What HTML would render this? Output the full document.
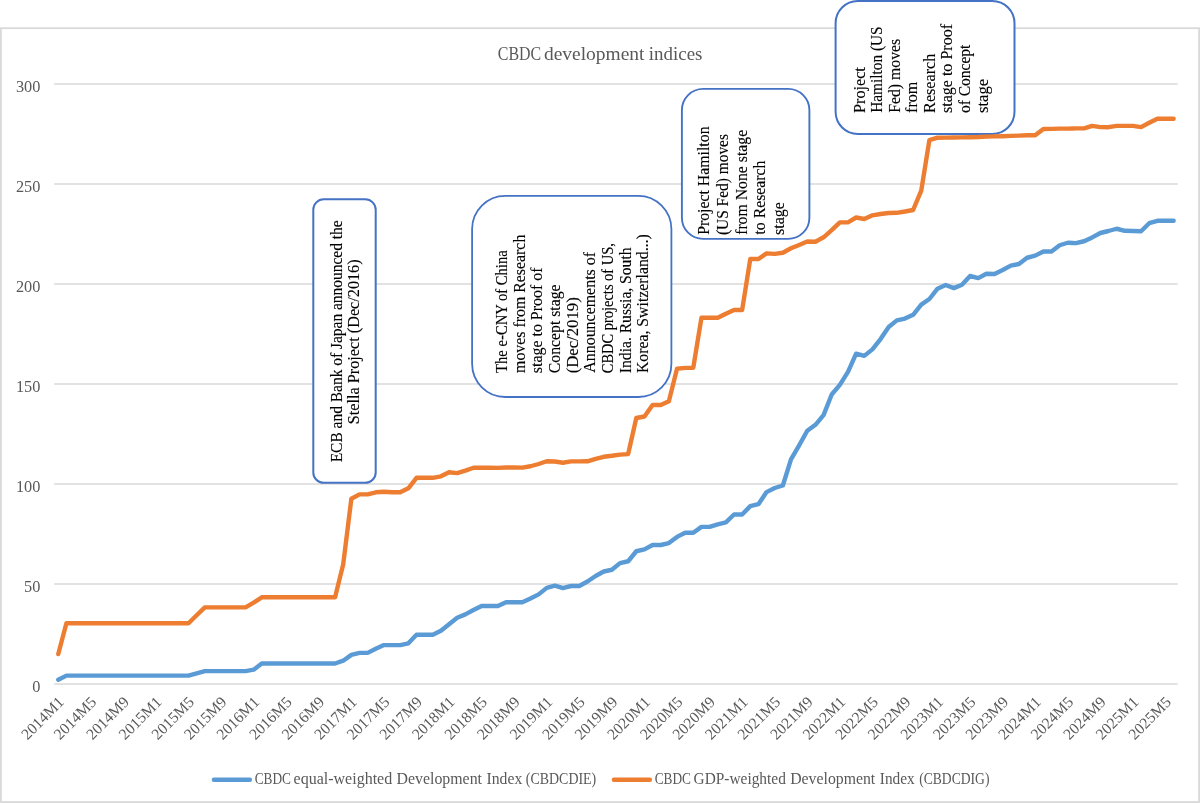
<!DOCTYPE html>
<html><head><meta charset="utf-8"><title>CBDC development indices</title>
<style>
html,body{margin:0;padding:0;background:#fff;}
body{width:1200px;height:803px;overflow:hidden;}
svg{display:block;font-family:"Liberation Serif", serif;will-change:transform;}
</style></head>
<body>
<svg width="1200" height="803" viewBox="0 0 1200 803">
<rect x="0.9" y="28.2" width="1198.2" height="773.9" fill="#fff" stroke="#d9d9d9" stroke-width="1.8"/>
<line x1="54.2" y1="684.0" x2="1177.7" y2="684.0" stroke="#d9d9d9" stroke-width="1.6"/>
<line x1="54.2" y1="584.0" x2="1177.7" y2="584.0" stroke="#d9d9d9" stroke-width="1.6"/>
<line x1="54.2" y1="484.0" x2="1177.7" y2="484.0" stroke="#d9d9d9" stroke-width="1.6"/>
<line x1="54.2" y1="384.0" x2="1177.7" y2="384.0" stroke="#d9d9d9" stroke-width="1.6"/>
<line x1="54.2" y1="284.0" x2="1177.7" y2="284.0" stroke="#d9d9d9" stroke-width="1.6"/>
<line x1="54.2" y1="184.0" x2="1177.7" y2="184.0" stroke="#d9d9d9" stroke-width="1.6"/>
<line x1="54.2" y1="84.0" x2="1177.7" y2="84.0" stroke="#d9d9d9" stroke-width="1.6"/>
<text x="40.4" y="691.6" text-anchor="end" font-size="16.3" fill="#595959">0</text>
<text x="40.4" y="591.6" text-anchor="end" font-size="16.3" fill="#595959">50</text>
<text x="40.4" y="491.6" text-anchor="end" font-size="16.3" fill="#595959">100</text>
<text x="40.4" y="391.6" text-anchor="end" font-size="16.3" fill="#595959">150</text>
<text x="40.4" y="291.6" text-anchor="end" font-size="16.3" fill="#595959">200</text>
<text x="40.4" y="191.6" text-anchor="end" font-size="16.3" fill="#595959">250</text>
<text x="40.4" y="91.6" text-anchor="end" font-size="16.3" fill="#595959">300</text>
<text transform="translate(59.27,697.5) rotate(-45)" text-anchor="end" font-size="15.6" fill="#595959" dy="0.5em">2014M1</text>
<text transform="translate(91.84,697.5) rotate(-45)" text-anchor="end" font-size="15.6" fill="#595959" dy="0.5em">2014M5</text>
<text transform="translate(124.40,697.5) rotate(-45)" text-anchor="end" font-size="15.6" fill="#595959" dy="0.5em">2014M9</text>
<text transform="translate(156.97,697.5) rotate(-45)" text-anchor="end" font-size="15.6" fill="#595959" dy="0.5em">2015M1</text>
<text transform="translate(189.53,697.5) rotate(-45)" text-anchor="end" font-size="15.6" fill="#595959" dy="0.5em">2015M5</text>
<text transform="translate(222.10,697.5) rotate(-45)" text-anchor="end" font-size="15.6" fill="#595959" dy="0.5em">2015M9</text>
<text transform="translate(254.66,697.5) rotate(-45)" text-anchor="end" font-size="15.6" fill="#595959" dy="0.5em">2016M1</text>
<text transform="translate(287.23,697.5) rotate(-45)" text-anchor="end" font-size="15.6" fill="#595959" dy="0.5em">2016M5</text>
<text transform="translate(319.79,697.5) rotate(-45)" text-anchor="end" font-size="15.6" fill="#595959" dy="0.5em">2016M9</text>
<text transform="translate(352.36,697.5) rotate(-45)" text-anchor="end" font-size="15.6" fill="#595959" dy="0.5em">2017M1</text>
<text transform="translate(384.92,697.5) rotate(-45)" text-anchor="end" font-size="15.6" fill="#595959" dy="0.5em">2017M5</text>
<text transform="translate(417.49,697.5) rotate(-45)" text-anchor="end" font-size="15.6" fill="#595959" dy="0.5em">2017M9</text>
<text transform="translate(450.05,697.5) rotate(-45)" text-anchor="end" font-size="15.6" fill="#595959" dy="0.5em">2018M1</text>
<text transform="translate(482.62,697.5) rotate(-45)" text-anchor="end" font-size="15.6" fill="#595959" dy="0.5em">2018M5</text>
<text transform="translate(515.18,697.5) rotate(-45)" text-anchor="end" font-size="15.6" fill="#595959" dy="0.5em">2018M9</text>
<text transform="translate(547.75,697.5) rotate(-45)" text-anchor="end" font-size="15.6" fill="#595959" dy="0.5em">2019M1</text>
<text transform="translate(580.31,697.5) rotate(-45)" text-anchor="end" font-size="15.6" fill="#595959" dy="0.5em">2019M5</text>
<text transform="translate(612.88,697.5) rotate(-45)" text-anchor="end" font-size="15.6" fill="#595959" dy="0.5em">2019M9</text>
<text transform="translate(645.44,697.5) rotate(-45)" text-anchor="end" font-size="15.6" fill="#595959" dy="0.5em">2020M1</text>
<text transform="translate(678.01,697.5) rotate(-45)" text-anchor="end" font-size="15.6" fill="#595959" dy="0.5em">2020M5</text>
<text transform="translate(710.58,697.5) rotate(-45)" text-anchor="end" font-size="15.6" fill="#595959" dy="0.5em">2020M9</text>
<text transform="translate(743.14,697.5) rotate(-45)" text-anchor="end" font-size="15.6" fill="#595959" dy="0.5em">2021M1</text>
<text transform="translate(775.71,697.5) rotate(-45)" text-anchor="end" font-size="15.6" fill="#595959" dy="0.5em">2021M5</text>
<text transform="translate(808.27,697.5) rotate(-45)" text-anchor="end" font-size="15.6" fill="#595959" dy="0.5em">2021M9</text>
<text transform="translate(840.84,697.5) rotate(-45)" text-anchor="end" font-size="15.6" fill="#595959" dy="0.5em">2022M1</text>
<text transform="translate(873.40,697.5) rotate(-45)" text-anchor="end" font-size="15.6" fill="#595959" dy="0.5em">2022M5</text>
<text transform="translate(905.97,697.5) rotate(-45)" text-anchor="end" font-size="15.6" fill="#595959" dy="0.5em">2022M9</text>
<text transform="translate(938.53,697.5) rotate(-45)" text-anchor="end" font-size="15.6" fill="#595959" dy="0.5em">2023M1</text>
<text transform="translate(971.10,697.5) rotate(-45)" text-anchor="end" font-size="15.6" fill="#595959" dy="0.5em">2023M5</text>
<text transform="translate(1003.66,697.5) rotate(-45)" text-anchor="end" font-size="15.6" fill="#595959" dy="0.5em">2023M9</text>
<text transform="translate(1036.23,697.5) rotate(-45)" text-anchor="end" font-size="15.6" fill="#595959" dy="0.5em">2024M1</text>
<text transform="translate(1068.79,697.5) rotate(-45)" text-anchor="end" font-size="15.6" fill="#595959" dy="0.5em">2024M5</text>
<text transform="translate(1101.36,697.5) rotate(-45)" text-anchor="end" font-size="15.6" fill="#595959" dy="0.5em">2024M9</text>
<text transform="translate(1133.92,697.5) rotate(-45)" text-anchor="end" font-size="15.6" fill="#595959" dy="0.5em">2025M1</text>
<text transform="translate(1166.49,697.5) rotate(-45)" text-anchor="end" font-size="15.6" fill="#595959" dy="0.5em">2025M5</text>
<rect x="313.3" y="199.3" width="62.40" height="283.50" rx="10.40" fill="#fff" stroke="#4472c4" stroke-width="2"/>
<rect x="472.1" y="195.9" width="199.30" height="201.10" rx="33.22" fill="#fff" stroke="#4472c4" stroke-width="1.8"/>
<rect x="681.9" y="88.9" width="127.50" height="150.00" rx="21.25" fill="#fff" stroke="#4472c4" stroke-width="1.9"/>
<rect x="835.6" y="1.0" width="178.90" height="133.00" rx="22.17" fill="#fff" stroke="#4472c4" stroke-width="2"/>
<text transform="translate(341.50,462.36) rotate(-90)" font-size="15.7" fill="#000" stroke="#000" stroke-width="0.12" textLength="242.07" lengthAdjust="spacingAndGlyphs">ECB and Bank of Japan announced the</text>
<text transform="translate(358.90,424.15) rotate(-90)" font-size="15.7" fill="#000" stroke="#000" stroke-width="0.12" textLength="164.76" lengthAdjust="spacingAndGlyphs">Stella Project (Dec/2016)</text>
<text transform="translate(506.90,372.89) rotate(-90)" font-size="15.7" fill="#000" stroke="#000" stroke-width="0.12" textLength="122.58" lengthAdjust="spacingAndGlyphs">The e-CNY of China</text>
<text transform="translate(524.57,372.92) rotate(-90)" font-size="15.7" fill="#000" stroke="#000" stroke-width="0.12" textLength="138.24" lengthAdjust="spacingAndGlyphs">moves from Research</text>
<text transform="translate(542.25,373.24) rotate(-90)" font-size="15.7" fill="#000" stroke="#000" stroke-width="0.12" textLength="105.70" lengthAdjust="spacingAndGlyphs">stage to Proof of</text>
<text transform="translate(559.92,373.23) rotate(-90)" font-size="15.7" fill="#000" stroke="#000" stroke-width="0.12" textLength="88.84" lengthAdjust="spacingAndGlyphs">Concept stage</text>
<text transform="translate(577.60,373.35) rotate(-90)" font-size="15.7" fill="#000" stroke="#000" stroke-width="0.12" textLength="76.08" lengthAdjust="spacingAndGlyphs">(Dec/2019)</text>
<text transform="translate(595.27,372.76) rotate(-90)" font-size="15.7" fill="#000" stroke="#000" stroke-width="0.12" textLength="120.80" lengthAdjust="spacingAndGlyphs">Announcements of</text>
<text transform="translate(612.95,373.18) rotate(-90)" font-size="15.7" fill="#000" stroke="#000" stroke-width="0.12" textLength="130.02" lengthAdjust="spacingAndGlyphs">CBDC projects of US,</text>
<text transform="translate(630.62,373.15) rotate(-90)" font-size="15.7" fill="#000" stroke="#000" stroke-width="0.12" textLength="125.69" lengthAdjust="spacingAndGlyphs">India. Russia, South</text>
<text transform="translate(648.30,373.07) rotate(-90)" font-size="15.7" fill="#000" stroke="#000" stroke-width="0.12" textLength="138.84" lengthAdjust="spacingAndGlyphs">Korea, Switzerland...)</text>
<text transform="translate(709.30,234.87) rotate(-90)" font-size="15.7" fill="#000" stroke="#000" stroke-width="0.12" textLength="108.41" lengthAdjust="spacingAndGlyphs">Project Hamilton</text>
<text transform="translate(728.00,235.09) rotate(-90)" font-size="15.7" fill="#000" stroke="#000" stroke-width="0.12" textLength="101.04" lengthAdjust="spacingAndGlyphs">(US Fed) moves</text>
<text transform="translate(746.70,234.87) rotate(-90)" font-size="15.7" fill="#000" stroke="#000" stroke-width="0.12" textLength="105.02" lengthAdjust="spacingAndGlyphs">from None stage</text>
<text transform="translate(765.40,234.56) rotate(-90)" font-size="15.7" fill="#000" stroke="#000" stroke-width="0.12" textLength="74.03" lengthAdjust="spacingAndGlyphs">to Research</text>
<text transform="translate(784.10,235.04) rotate(-90)" font-size="15.7" fill="#000" stroke="#000" stroke-width="0.12" textLength="32.89" lengthAdjust="spacingAndGlyphs">stage</text>
<text transform="translate(865.00,112.88) rotate(-90)" font-size="15.7" fill="#000" stroke="#000" stroke-width="0.12" textLength="45.71" lengthAdjust="spacingAndGlyphs">Project</text>
<text transform="translate(882.30,112.86) rotate(-90)" font-size="15.7" fill="#000" stroke="#000" stroke-width="0.12" textLength="86.46" lengthAdjust="spacingAndGlyphs">Hamilton (US</text>
<text transform="translate(899.70,112.87) rotate(-90)" font-size="15.7" fill="#000" stroke="#000" stroke-width="0.12" textLength="74.11" lengthAdjust="spacingAndGlyphs">Fed) moves</text>
<text transform="translate(917.00,112.88) rotate(-90)" font-size="15.7" fill="#000" stroke="#000" stroke-width="0.12" textLength="31.18" lengthAdjust="spacingAndGlyphs">from</text>
<text transform="translate(935.00,112.88) rotate(-90)" font-size="15.7" fill="#000" stroke="#000" stroke-width="0.12" textLength="59.12" lengthAdjust="spacingAndGlyphs">Research</text>
<text transform="translate(952.30,113.04) rotate(-90)" font-size="15.7" fill="#000" stroke="#000" stroke-width="0.12" textLength="89.04" lengthAdjust="spacingAndGlyphs">stage to Proof</text>
<text transform="translate(970.30,113.02) rotate(-90)" font-size="15.7" fill="#000" stroke="#000" stroke-width="0.12" textLength="68.41" lengthAdjust="spacingAndGlyphs">of Concept</text>
<text transform="translate(988.00,113.07) rotate(-90)" font-size="15.7" fill="#000" stroke="#000" stroke-width="0.12" textLength="34.35" lengthAdjust="spacingAndGlyphs">stage</text>
<text x="497.86" y="59.5" font-size="19.3" fill="#595959" textLength="43.37" lengthAdjust="spacingAndGlyphs">CBDC</text>
<text x="543.92" y="59.5" font-size="19.3" fill="#595959" textLength="100.57" lengthAdjust="spacingAndGlyphs">development</text>
<text x="648.82" y="59.5" font-size="19.3" fill="#595959" textLength="53.59" lengthAdjust="spacingAndGlyphs">indices</text>
<text x="254.67" y="784" font-size="16.0" fill="#595959" textLength="36.31" lengthAdjust="spacingAndGlyphs">CBDC</text>
<text x="293.56" y="784" font-size="16.0" fill="#595959" textLength="98.68" lengthAdjust="spacingAndGlyphs">equal-weighted</text>
<text x="396.52" y="784" font-size="16.0" fill="#595959" textLength="85.49" lengthAdjust="spacingAndGlyphs">Development</text>
<text x="486.55" y="784" font-size="16.0" fill="#595959" textLength="35.74" lengthAdjust="spacingAndGlyphs">Index</text>
<text x="525.87" y="784" font-size="16.0" fill="#595959" textLength="70.36" lengthAdjust="spacingAndGlyphs">(CBDCDIE)</text>
<text x="654.67" y="784" font-size="16.0" fill="#595959" textLength="36.31" lengthAdjust="spacingAndGlyphs">CBDC</text>
<text x="693.58" y="784" font-size="16.0" fill="#595959" textLength="92.25" lengthAdjust="spacingAndGlyphs">GDP-weighted</text>
<text x="790.23" y="784" font-size="16.0" fill="#595959" textLength="84.99" lengthAdjust="spacingAndGlyphs">Development</text>
<text x="879.86" y="784" font-size="16.0" fill="#595959" textLength="34.82" lengthAdjust="spacingAndGlyphs">Index</text>
<text x="919.19" y="784" font-size="16.0" fill="#595959" textLength="70.28" lengthAdjust="spacingAndGlyphs">(CBDCDIG)</text>
<polyline points="58.27,679.70 66.41,675.60 74.55,675.60 82.69,675.60 90.84,675.60 98.98,675.60 107.12,675.60 115.26,675.60 123.40,675.60 131.54,675.60 139.68,675.60 147.83,675.60 155.97,675.60 164.11,675.60 172.25,675.60 180.39,675.60 188.53,675.60 196.67,673.30 204.81,671.10 212.96,671.10 221.10,671.10 229.24,671.10 237.38,671.10 245.52,671.10 253.66,669.70 261.80,663.50 269.94,663.50 278.09,663.50 286.23,663.50 294.37,663.50 302.51,663.50 310.65,663.50 318.79,663.50 326.93,663.50 335.08,663.50 343.22,660.70 351.36,654.90 359.50,652.90 367.64,652.90 375.78,648.80 383.92,645.10 392.06,645.10 400.21,645.10 408.35,643.30 416.49,634.70 424.63,634.70 432.77,634.70 440.91,630.80 449.05,624.20 457.19,617.75 465.34,614.40 473.48,610.00 481.62,606.00 489.76,606.00 497.90,606.00 506.04,602.25 514.18,602.25 522.33,602.25 530.47,598.50 538.61,594.40 546.75,587.90 554.89,585.60 563.03,588.10 571.17,586.00 579.31,586.00 587.46,581.50 595.60,576.00 603.74,571.50 611.88,569.75 620.02,563.10 628.16,561.25 636.30,551.25 644.44,549.40 652.59,545.00 660.73,545.00 668.87,543.10 677.01,536.90 685.15,532.75 693.29,532.75 701.43,526.90 709.58,526.90 717.72,524.30 725.86,522.40 734.00,514.50 742.14,514.50 750.28,506.10 758.42,504.20 766.56,492.10 774.71,488.00 782.85,485.50 790.99,459.40 799.13,445.40 807.27,430.80 815.41,424.80 823.55,415.10 831.69,394.50 839.84,384.90 847.98,371.80 856.12,353.70 864.26,355.90 872.40,349.40 880.54,339.10 888.68,327.00 896.83,320.40 904.97,318.60 913.11,314.80 921.25,304.60 929.39,299.00 937.53,288.70 945.67,285.00 953.81,288.10 961.96,284.70 970.10,276.00 978.24,278.10 986.38,273.75 994.52,274.00 1002.66,270.00 1010.80,265.60 1018.94,264.00 1027.09,257.75 1035.23,255.60 1043.37,251.50 1051.51,251.50 1059.65,245.25 1067.79,242.75 1075.93,243.10 1084.08,241.25 1092.22,237.40 1100.36,233.00 1108.50,231.00 1116.64,228.75 1124.78,230.80 1132.92,231.00 1141.06,231.25 1149.21,223.20 1157.35,220.80 1165.49,220.80 1173.63,220.80" fill="none" stroke="#5b9bd5" stroke-width="4.4" stroke-linejoin="round" stroke-linecap="round"/>
<polyline points="58.27,654.00 66.41,623.30 74.55,623.30 82.69,623.30 90.84,623.30 98.98,623.30 107.12,623.30 115.26,623.30 123.40,623.30 131.54,623.30 139.68,623.30 147.83,623.30 155.97,623.30 164.11,623.30 172.25,623.30 180.39,623.30 188.53,623.30 196.67,615.30 204.81,607.40 212.96,607.40 221.10,607.40 229.24,607.40 237.38,607.40 245.52,607.40 253.66,602.60 261.80,597.30 269.94,597.30 278.09,597.30 286.23,597.30 294.37,597.30 302.51,597.30 310.65,597.30 318.79,597.30 326.93,597.30 335.08,597.30 343.22,564.20 351.36,498.80 359.50,494.40 367.64,494.40 375.78,492.30 383.92,491.80 392.06,492.30 400.21,492.30 408.35,488.30 416.49,477.80 424.63,477.80 432.77,477.80 440.91,476.30 449.05,472.25 457.19,473.10 465.34,470.60 473.48,467.75 481.62,467.75 489.76,467.75 497.90,467.90 506.04,467.50 514.18,467.50 522.33,467.60 530.47,466.25 538.61,464.00 546.75,461.25 554.89,461.50 563.03,462.75 571.17,461.40 579.31,461.40 587.46,461.30 595.60,458.80 603.74,456.80 611.88,455.80 620.02,454.60 628.16,454.10 636.30,418.00 644.44,416.50 652.59,405.00 660.73,405.00 668.87,401.30 677.01,368.70 685.15,367.90 693.29,367.70 701.43,317.80 709.58,317.80 717.72,317.80 725.86,313.70 734.00,310.00 742.14,310.00 750.28,259.00 758.42,259.00 766.56,253.40 774.71,253.90 782.85,252.80 790.99,248.30 799.13,245.00 807.27,241.50 815.41,241.70 823.55,237.30 831.69,230.20 839.84,222.40 847.98,222.40 856.12,217.50 864.26,219.00 872.40,215.30 880.54,214.00 888.68,213.00 896.83,212.80 904.97,211.50 913.11,210.00 921.25,190.60 929.39,140.20 937.53,137.70 945.67,137.60 953.81,137.50 961.96,137.40 970.10,137.20 978.24,137.00 986.38,136.60 994.52,136.40 1002.66,136.20 1010.80,135.90 1018.94,135.60 1027.09,135.30 1035.23,135.20 1043.37,129.00 1051.51,128.90 1059.65,128.60 1067.79,128.60 1075.93,128.40 1084.08,128.40 1092.22,125.90 1100.36,127.10 1108.50,127.20 1116.64,125.90 1124.78,125.90 1132.92,125.90 1141.06,127.10 1149.21,122.75 1157.35,118.70 1165.49,118.70 1173.63,118.70" fill="none" stroke="#ed7d31" stroke-width="4.4" stroke-linejoin="round" stroke-linecap="round"/>
<line x1="213.9" y1="779.8" x2="249.9" y2="779.8" stroke="#5b9bd5" stroke-width="4.4" stroke-linecap="round"/>
<line x1="613.9" y1="779.8" x2="649.9" y2="779.8" stroke="#ed7d31" stroke-width="4.4" stroke-linecap="round"/>
</svg>
</body></html>
